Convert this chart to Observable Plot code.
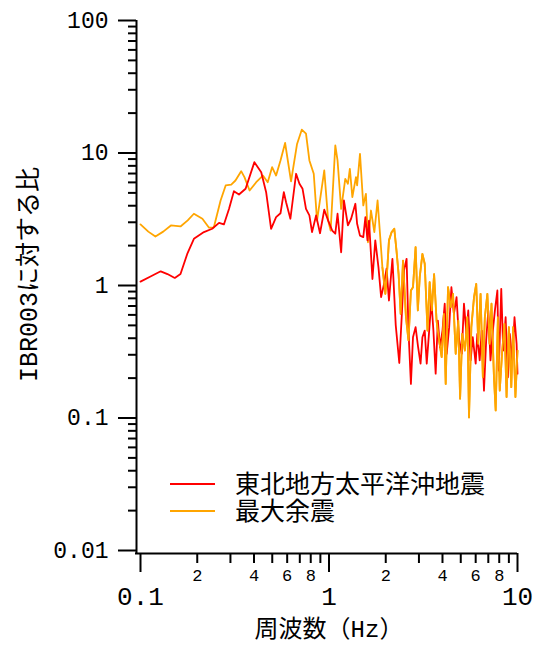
<!DOCTYPE html>
<html>
<head>
<meta charset="utf-8">
<script src="https://cdn.jsdelivr.net/npm/d3@7"></script>
<script src="https://cdn.jsdelivr.net/npm/@observablehq/plot@0.6"></script>
<style>
  html, body { margin: 0; padding: 0; background: #fff; }
  #chart { position: relative; width: 533px; height: 646px; }
</style>
</head>
<body>
<div id="chart"></div>
<script>
// Series 1: 東北地方太平洋沖地震 (red)
const freqMain = [0.100,0.113,0.128,0.139,0.152,0.163,0.177,0.192,0.217,0.240,0.261,0.277,0.295,0.313,0.333,0.361,0.402,0.437,0.464,0.493,0.524,0.553,0.576,0.592,0.624,0.669,0.697,0.724,0.755,0.787,0.813,0.854,0.896,0.944,0.99,1.04,1.08,1.11,1.16,1.20,1.26,1.31,1.38,1.41,1.46,1.52,1.56,1.60,1.63,1.70,1.76,1.83,1.89,1.96,2.02,2.08,2.17,2.26,2.36,2.43,2.50,2.58,2.64,2.72,2.79,2.88,2.97,3.06,3.13,3.22,3.30,3.40,3.49,3.58,3.68,3.78,3.88,4.00,4.11,4.21,4.34,4.46,4.60,4.75,4.89,5.06,5.20,5.36,5.48,5.64,5.79,6.00,6.12,6.30,6.46,6.64,6.82,7.00,7.19,7.40,7.59,7.82,7.96,8.20,8.40,8.65,8.89,9.10,9.38,9.64,9.89,10.0];
const ratioMain = [1.07,1.17,1.28,1.22,1.14,1.22,1.73,2.25,2.53,2.68,2.97,2.89,3.79,5.15,4.86,5.37,8.53,7.16,5.06,2.68,3.28,3.51,5.06,4.25,3.19,6.97,5.86,5.37,3.79,3.38,2.53,3.38,2.48,3.73,3.09,2.6,2.46,3.48,1.78,4.38,2.84,3.19,4.14,2.92,2.38,2.32,3.28,2.19,3.09,1.12,2.19,1.37,0.817,1.03,1.34,0.77,1.59,0.5,0.26,0.576,1.3,1.59,0.457,0.181,0.407,0.485,0.342,0.257,0.407,0.457,0.257,0.457,0.77,0.457,0.216,0.544,0.342,0.457,0.728,0.305,0.485,0.97,0.611,0.816,0.4,0.305,0.728,0.432,0.648,0.272,0.407,0.257,0.432,0.272,0.457,0.161,0.385,0.648,0.272,0.457,0.648,0.917,0.228,0.944,0.323,0.576,0.203,0.432,0.272,0.576,0.363,0.216];

// Series 2: 最大余震 (orange)
const freqAfter = [0.100,0.110,0.120,0.132,0.145,0.163,0.178,0.192,0.213,0.231,0.245,0.266,0.283,0.303,0.319,0.342,0.356,0.379,0.411,0.446,0.473,0.499,0.524,0.553,0.585,0.629,0.677,0.717,0.755,0.787,0.830,0.864,0.944,0.99,1.02,1.08,1.11,1.16,1.22,1.26,1.29,1.33,1.39,1.41,1.46,1.52,1.57,1.61,1.67,1.74,1.81,1.87,1.92,1.99,2.04,2.08,2.15,2.22,2.28,2.34,2.40,2.47,2.56,2.64,2.72,2.79,2.88,2.96,3.03,3.13,3.22,3.33,3.42,3.51,3.61,3.72,3.84,3.96,4.07,4.16,4.28,4.43,4.55,4.70,4.85,4.96,5.09,5.26,5.42,5.53,5.69,5.88,6.04,6.19,6.37,6.55,6.71,6.92,7.11,7.28,7.50,7.66,7.87,8.05,8.30,8.53,8.75,9.00,9.27,9.48,9.75,10.0];
const ratioAfter = [2.89,2.55,2.34,2.55,2.84,2.79,3.1,3.48,3.19,2.73,2.75,4.38,5.69,5.78,6.2,7.29,6.57,5.21,6.02,6.76,6.02,7.81,6.76,8.78,11.9,6.1,11.7,15.0,14.0,8.78,6.97,3.09,7.38,3.09,2.6,11.4,8.78,3.79,6.38,5.86,7.6,4.64,6.57,5.69,9.86,4.02,4.92,2.12,3.68,2.53,4.38,2.32,1.37,0.865,1.37,2.19,2.53,2.68,1.84,1.22,0.611,1.54,0.576,0.385,0.917,0.97,1.95,0.648,1.16,1.73,1.46,0.457,1.06,0.648,1.22,0.544,0.385,0.288,0.611,0.181,0.97,0.686,0.865,0.305,0.544,0.14,0.432,0.323,0.576,0.101,0.485,0.816,1.03,0.363,0.865,0.203,0.576,0.865,0.363,0.728,0.203,0.114,0.576,0.161,0.323,0.514,0.144,0.485,0.171,0.485,0.144,0.323];

const seriesNames = ["東北地方太平洋沖地震", "最大余震"];
const seriesColors = ["#ff0000", "#ffa500"];

// Axis ticks
const yMajorTicks = [0.01, 0.1, 1, 10, 100];
const yMajorLabels = ["0.01", "0.1", "1", "10", "100"];
const yMinorTicks = [0.02,0.03,0.04,0.05,0.06,0.07,0.08,0.09,0.2,0.3,0.4,0.5,0.6,0.7,0.8,0.9,2,3,4,5,6,7,8,9,20,30,40,50,60,70,80,90];
const xMajorTicks = [0.1, 1, 10];
const xMajorLabels = ["0.1", "1", "10"];
const xMinorTicks = [0.2,0.3,0.4,0.5,0.6,0.7,0.8,0.9,2,3,4,5,6,7,8,9];
const xMinorLabelTicks = [0.2, 0.4, 0.6, 0.8, 2, 4, 6, 8];
const xMinorLabels = ["2", "4", "6", "8", "2", "4", "6", "8"];

const xTitle = "周波数（Hz）";
const yTitle = "IBR003に対する比";

const mainData = freqMain.map((f, i) => ({f, v: ratioMain[i]}));
const afterData = freqAfter.map((f, i) => ({f, v: ratioAfter[i]}));

const font = "'Liberation Mono', 'Noto Sans CJK JP', sans-serif";

const chart = Plot.plot({
  width: 533,
  height: 646,
  marginLeft: 140,
  marginRight: 16,
  marginTop: 20,
  marginBottom: 96,
  style: {fontFamily: font, background: "#fff", color: "#000", overflow: "visible"},
  x: {type: "log", domain: [0.1, 10]},
  y: {type: "log", domain: [0.01, 100]},
  marks: [
    Plot.line(afterData, {x: "f", y: "v", stroke: seriesColors[1], strokeWidth: 1.8}),
    Plot.line(mainData, {x: "f", y: "v", stroke: seriesColors[0], strokeWidth: 1.8}),
    Plot.line(afterData.filter(d => d.f > 1.9), {x: "f", y: "v", stroke: seriesColors[1], strokeWidth: 1.8}),
    // axis lines
    Plot.ruleX([0.1], {dx: -4, insetBottom: -4, stroke: "#000", strokeWidth: 2}),
    Plot.ruleY([0.01], {dy: 3, insetLeft: -5, stroke: "#000", strokeWidth: 2}),
    // y axis ticks
    Plot.axisY({ticks: yMajorTicks, tickSize: 18, dx: -4, text: null, strokeWidth: 2, label: null}),
    Plot.axisY({ticks: yMinorTicks, tickSize: 8, dx: -4, text: null, strokeWidth: 2, label: null}),
    Plot.text(yMajorTicks, {y: d => d, frameAnchor: "left", dx: -32, textAnchor: "end", fontSize: 23,
      text: (d, i) => yMajorLabels[i]}),
    // x axis ticks
    Plot.axisX({ticks: xMajorTicks, tickSize: 19, dy: 3, text: null, strokeWidth: 2, label: null}),
    Plot.axisX({ticks: xMinorTicks, tickSize: 10, dy: 3, text: null, strokeWidth: 2, label: null}),
    Plot.text(xMajorTicks, {x: d => d, frameAnchor: "bottom", dy: 46, fontSize: 26, lineAnchor: "middle",
      text: (d, i) => xMajorLabels[i]}),
    Plot.text(xMinorLabelTicks, {x: d => d, frameAnchor: "bottom", dy: 25, fontSize: 17, lineAnchor: "middle",
      text: (d, i) => xMinorLabels[i]}),
    // titles
    Plot.text([xTitle], {frameAnchor: "bottom", dy: 79, fontSize: 24, lineAnchor: "middle", textAnchor: "middle", text: d => d}),
    Plot.text([yTitle], {frameAnchor: "left", dx: -112, dy: -11, rotate: -90, fontSize: 25, lineAnchor: "middle", textAnchor: "middle", text: d => d})
  ]
});

document.getElementById("chart").appendChild(chart);

// Legend (inside the plot area)
const svg = d3.select(chart);
const legend = svg.append("g").attr("font-family", font).attr("font-size", 25).attr("text-anchor", "start");
seriesNames.forEach((name, i) => {
  const y = 484 + i * 27;
  legend.append("line").attr("x1", 170).attr("x2", 215).attr("y1", y).attr("y2", y)
    .attr("stroke", seriesColors[i]).attr("stroke-width", 1.8);
  legend.append("text").attr("x", 235).attr("y", y).attr("dy", "0.35em").attr("fill", "#000").text(name);
});
</script>
</body>
</html>
